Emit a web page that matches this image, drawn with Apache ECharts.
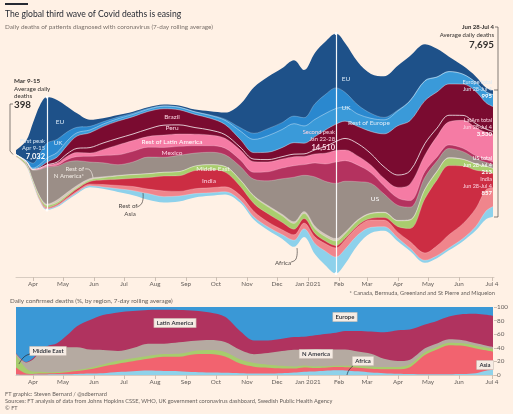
<!DOCTYPE html>
<html><head><meta charset="utf-8">
<script src="https://cdn.jsdelivr.net/npm/echarts@6.0.0/dist/echarts.min.js"></script>
<style>html,body{margin:0;padding:0;background:#fff1e5;}#c{width:513px;height:414px;}</style>
</head><body><div id="c"></div>
<script>
// ---- data: daily deaths, 7-day rolling average ----
const dates = ['2020-03-15','2020-03-25','2020-04-01','2020-04-08','2020-04-15','2020-04-25','2020-05-05','2020-05-15','2020-05-28','2020-06-10','2020-06-25','2020-07-10','2020-07-25','2020-08-10','2020-08-25','2020-09-10','2020-09-25','2020-10-10','2020-10-25','2020-11-08','2020-11-22','2020-12-06','2020-12-18','2020-12-28','2021-01-08','2021-01-18','2021-01-29','2021-02-07','2021-02-20','2021-03-05','2021-03-18','2021-04-01','2021-04-13','2021-04-28','2021-05-10','2021-05-22','2021-06-05','2021-06-18','2021-06-28','2021-07-05'];
const EU     = [260,1150,2450,2900,2800,2400,1550,850,400,220,130,90,70,70,90,130,220,400,1400,2800,3150,3300,3400,2900,3100,3200,3300,3000,2600,2400,2500,2700,2700,2200,1700,900,500,350,250,250];
const UK     = [5,50,300,700,900,800,550,330,220,140,100,70,50,30,15,10,30,70,200,370,430,420,460,500,950,1150,1250,900,550,300,150,50,30,25,15,10,8,10,15,20];
const restEurope = [5,20,60,150,250,280,280,200,170,150,140,140,130,150,150,150,170,250,500,800,1000,1100,1150,1050,1050,1000,950,850,750,800,850,900,1200,1200,900,750,600,550,650,725];
const brazil = [0,3,20,70,170,300,500,750,900,1000,1050,1050,1070,1000,920,800,720,620,480,400,450,550,700,650,800,1000,1050,1050,1050,1350,2000,3000,3050,2600,2200,1900,1900,1950,1600,1500];
const peru   = [0,0,3,10,25,70,150,250,330,400,400,400,450,600,550,400,300,220,170,150,140,140,150,150,250,400,550,700,750,700,700,750,800,700,500,400,300,250,200,180];
const restLatAm = [2,5,30,60,70,120,200,250,200,350,600,650,650,750,750,700,650,600,600,650,600,550,550,500,550,650,700,650,550,450,450,650,1000,1000,1250,1400,1700,1700,1650,1680];
const mexico = [0,1,5,20,35,60,150,250,350,450,600,650,600,600,550,450,400,400,400,420,550,650,700,650,850,1050,1300,1250,1000,650,500,450,400,350,250,220,200,180,170,170];
const US     = [10,120,650,1650,2250,2050,1850,1500,1000,850,650,750,1000,900,980,780,750,700,800,1000,1500,2150,2700,2200,3000,3200,3350,3100,2300,1800,1100,900,750,700,600,550,450,300,220,213];
const restNAm = [1,5,20,40,80,150,160,140,90,60,30,20,15,10,10,10,10,20,25,50,80,90,110,120,150,150,150,100,60,40,35,35,40,50,45,35,25,15,10,10];
const middleEast = [70,120,130,150,130,100,90,80,90,130,200,220,230,230,250,270,300,330,380,430,420,400,350,300,280,270,280,280,280,280,300,350,500,550,500,450,400,380,330,310];
const india  = [1,2,5,15,30,50,80,110,160,280,380,500,700,900,950,1100,1100,900,550,480,500,450,340,280,220,160,140,100,90,100,150,350,800,3300,4000,4200,3500,2300,1100,857];
const restAsia = [40,25,30,70,70,70,80,90,100,150,200,250,270,350,280,300,300,300,300,330,300,300,330,350,400,450,550,550,500,450,400,350,400,450,600,800,900,1100,1300,1150];
const africa = [3,5,20,35,50,60,70,80,90,110,200,280,370,350,330,230,180,160,150,170,200,250,400,500,650,850,1000,900,600,350,250,200,170,150,150,150,160,250,500,620];

const tickDates  = ['2020-04-01','2020-05-01','2020-06-01','2020-07-01','2020-08-01','2020-09-01','2020-10-01','2020-11-01','2020-12-01','2021-01-01','2021-02-01','2021-03-01','2021-04-01','2021-05-01','2021-06-01','2021-07-04'];
const tickLabels = ['Apr','May','Jun','Jul','Aug','Sep','Oct','Nov','Dec','Jan 2021','Feb','Mar','Apr','May','Jun','Jul 4'];
const peakDates = ['2020-04-15','2021-01-29'];

// ---- helpers ----
function ts(s){const p=s.split('-').map(Number);return Date.UTC(p[0],p[1]-1,p[2]);}
const X = dates.map(ts);
const tickTs = tickDates.map(ts);
const FONT = "Lato, 'Noto Sans', sans-serif";
const BG = '#fff1e5';
const layers = [ // bottom -> top
  {name:'Africa', d:africa, c:'#8dd1eb'},
  {name:'Rest of Asia', d:restAsia, c:'#f0858c'},
  {name:'India', d:india, c:'#cc2d43'},
  {name:'Middle East', d:middleEast, c:'#a9cd6e'},
  {name:'Rest of N America', d:restNAm, c:'#d6c8bb'},
  {name:'US', d:US, c:'#9b8e87'},
  {name:'Mexico', d:mexico, c:'#b4325f'},
  {name:'Rest of Latin America', d:restLatAm, c:'#f57ba4'},
  {name:'Peru', d:peru, c:'#7a0b30'},
  {name:'Brazil', d:brazil, c:'#7a0b30'},
  {name:'Rest of Europe', d:restEurope, c:'#3a9ad9'},
  {name:'UK', d:UK, c:'#2a88cf'},
  {name:'EU', d:EU, c:'#1e5189'}
];
const totals = X.map((_,i)=>layers.reduce((s,l)=>s+l.d[i],0));
const MID = 7500;                       // centre line of the stream
const base = totals.map(t=>MID - t/2);  // silhouette baseline
const cum = []; {let run = base.slice(); layers.forEach(l=>{run = run.map((v,i)=>v+l.d[i]); cum.push(run.slice());});}

const SM = 0.35;
const series = [];
for(let k=layers.length-1;k>=0;k--){
  series.push({type:'line', name:layers[k].name, xAxisIndex:0, yAxisIndex:0, symbol:'none', smooth:SM, silent:true, z:2,
    lineStyle:{width:0}, areaStyle:{color:layers[k].c, opacity:1, origin:'start'}, data:X.map((x,i)=>[x,cum[k][i]])});
}
series.push({type:'line', name:'base', xAxisIndex:0, yAxisIndex:0, symbol:'none', smooth:SM, silent:true, z:3,
  lineStyle:{width:0}, areaStyle:{color:BG, opacity:1, origin:'start'}, data:X.map((x,i)=>[x,base[i]])});
for(let k=0;k<layers.length-1;k++){
  const nm = layers[k].name;
  let ls = {width:0.6, color:'rgba(255,255,255,0.4)'};
  if(nm==='Peru') ls = {width:0.9, color:'rgba(255,255,255,0.85)'};
  if(nm==='Brazil'||nm==='Rest of Europe') ls = {width:0.7, color:'rgba(255,255,255,0.55)'};
  series.push({type:'line', name:nm+' edge', xAxisIndex:0, yAxisIndex:0, symbol:'none', smooth:SM, silent:true, z:4,
    lineStyle:ls, data:X.map((x,i)=>[x,cum[k][i]])});
}
series.push({type:'line', name:'peaks', xAxisIndex:0, yAxisIndex:0, symbol:'none', silent:true, z:5, data:[],
  markLine:{silent:true, symbol:['circle','circle'], symbolSize:3, animation:false,
    lineStyle:{color:'#ffffff', width:1.2, type:'solid', opacity:0.95}, label:{show:false},
    data: peakDates.map(pd=>{const i=dates.indexOf(pd);return [{coord:[X[i],base[i]]},{coord:[X[i],base[i]+totals[i]]}];})}});

const regions = [ // bottom -> top
  {name:'Africa', parts:[africa], c:'#8fd2ea'},
  {name:'Asia', parts:[india,restAsia], c:'#f2636f'},
  {name:'Middle East', parts:[middleEast], c:'#a7cc6d'},
  {name:'N America', parts:[US,restNAm], c:'#b5aaa1'},
  {name:'Latin America', parts:[brazil,peru,restLatAm,mexico], c:'#b0335f'},
  {name:'Europe', parts:[EU,UK,restEurope], c:'#3a98d6'}
];
const pcum = []; {let run = X.map(()=>0); regions.forEach(r=>{run = run.map((v,i)=>v + r.parts.reduce((s,a)=>s+a[i],0)/totals[i]*100); pcum.push(run.slice());});}
for(let k=regions.length-1;k>=0;k--){
  series.push({type:'line', name:regions[k].name+' %', xAxisIndex:1, yAxisIndex:1, symbol:'none', smooth:0.3, silent:true, z:2,
    lineStyle:{width:0}, areaStyle:{color:regions[k].c, opacity:1, origin:'start'}, data:X.map((x,i)=>[x,pcum[k][i]])});
}

function xAxisCfg(gi){return {type:'value', gridIndex:gi, min:ts('2020-03-15'), max:ts('2021-07-06'), z:6,
  axisLine:{show:true, lineStyle:{color:'#d8ccc1', width:1}},
  axisTick:{show:true, customValues:tickTs, length:4, lineStyle:{color:'#cdbfb3'}},
  axisLabel:{customValues:tickTs, fontSize:6.3, color:'#66605c', fontFamily:FONT, margin:4,
    formatter:v=>{let best=0,bd=Infinity;tickTs.forEach((t,i)=>{const d=Math.abs(t-v);if(d<bd){bd=d;best=i;}});return tickLabels[best];}},
  splitLine:{show:false}};}

function T(x,y,text,o){o=o||{};return {type:'text', x:x, y:y, silent:true, z:100, style:Object.assign({text:text, fill:o.fill||'#33302e',
  font:(o.w||'normal')+' '+(o.s||6)+'px '+FONT, align:o.a||'left', verticalAlign:'middle'}, o.extra||{})};}
function L(points,o){o=o||{};return {type:'polyline', silent:true, z:100, shape:{points:points, smooth:o.smooth||0},
  style:{stroke:o.c||'#66605c', lineWidth:o.w||0.7, fill:null}};}
function B(x,y,text){return T(x,y,text,{a:'center', w:'600', s:6, fill:'#262a33',
  extra:{backgroundColor:'#f6ece4', borderColor:'#cbbfb5', borderWidth:0.6, padding:[1.5,2.5,1,2.5]}});}

const W='#ffffff', LB='#dbe9f6', LP='#fbd3e1';
const graphic = [
  {type:'rect', shape:{x:5,y:3,width:23,height:2}, style:{fill:'#262a33'}, silent:true},
  T(5,14.5,'The global third wave of Covid deaths is easing',{s:8.6, fill:'#262a33'}),
  T(5,26.5,'Daily deaths of patients diagnosed with coronavirus (7-day rolling average)',{s:6.4, fill:'#7a716b'}),
  T(14,81,'Mar 9-15',{w:'bold', s:6.3}),
  T(14,89,'Average daily',{s:6.2}),
  T(14,96,'deaths',{s:6.2}),
  T(14,105,'398',{w:'bold', s:9.8}),
  L([[13,104],[10,104],[10,151],[13,154.5]],{c:'#4d4845'}),
  T(45,141,'First peak',{s:5.8, fill:LB, a:'right'}),
  T(45,148,'Apr 9-15',{s:5.8, fill:LB, a:'right'}),
  T(45,157,'7,032',{w:'bold', s:7.5, fill:W, a:'right'}),
  T(335,132,'Second peak',{s:5.8, fill:LP, a:'right'}),
  T(335,139.5,'Jan 22-28',{s:5.8, fill:LP, a:'right'}),
  T(335,148,'14,510',{w:'bold', s:7.5, fill:LP, a:'right'}),
  T(494,27,'Jun 28-Jul 4',{w:'bold', s:6, a:'right'}),
  T(494,35,'Average daily deaths',{s:6, a:'right'}),
  T(494,45,'7,695',{w:'bold', s:9.8, a:'right'}),
  L([[495,27],[498,27],[498,217],[494,217]],{c:'#4d4845'}),
  L([[494,90],[498,90]],{c:'#4d4845'}),
  T(492,82,'Europe total',{s:5.5, fill:LB, a:'right'}),
  T(492,89,'Jun 28-Jul 4',{s:5.5, fill:LB, a:'right'}),
  T(492,96.5,'995',{w:'bold', s:6, fill:W, a:'right'}),
  T(492,120,'LatAm total',{s:5.5, fill:LP, a:'right'}),
  T(492,127,'Jun 28-Jul 4',{s:5.5, fill:LP, a:'right'}),
  T(492,134,'3,530',{w:'bold', s:6, fill:W, a:'right'}),
  T(492,158,'US total',{s:5.5, fill:W, a:'right'}),
  T(492,165,'Jun 28-Jul 4',{s:5.5, fill:W, a:'right'}),
  T(492,172,'213',{w:'bold', s:6, fill:W, a:'right'}),
  T(492,179,'India',{s:5.5, fill:LP, a:'right'}),
  T(492,186,'Jun 28-Jul 4',{s:5.5, fill:LP, a:'right'}),
  T(492,193,'857',{w:'bold', s:6, fill:W, a:'right'}),
  T(60,122,'EU',{s:6.5, fill:LB, a:'center'}),
  T(346,79,'EU',{s:6.5, fill:LB, a:'center'}),
  T(58,143,'UK',{s:6.5, fill:LB, a:'center'}),
  T(346,108,'UK',{s:6.5, fill:LB, a:'center'}),
  T(369,123,'Rest of Europe',{s:6.5, fill:LB, a:'center'}),
  T(172,117,'Brazil',{s:6.5, fill:LP, a:'center'}),
  T(172,128,'Peru',{s:6.5, fill:LP, a:'center'}),
  T(172,142,'Rest of Latin America',{s:6.5, fill:W, a:'center'}),
  T(172,153,'Mexico',{s:6.5, fill:LP, a:'center'}),
  T(84,169,'Rest of',{s:6, fill:'#f4ede6', a:'right'}),
  T(84,176.5,'N America*',{s:6, fill:'#f4ede6', a:'right'}),
  L([[85,169],[90,170],[93,178]],{c:'#f4ede6', smooth:0.5}),
  T(375,199,'US',{s:6.5, fill:W, a:'center'}),
  T(213,169,'Middle East',{s:6.5, fill:'#f3f8e8', a:'center'}),
  T(209,181,'India',{s:6.5, fill:LP, a:'center'}),
  T(128,206,'Rest of',{s:6.2, fill:'#4d4845', a:'center'}),
  T(130,214,'Asia',{s:6.2, fill:'#4d4845', a:'center'}),
  L([[137,207],[142,203],[143,193]],{c:'#4d4845', smooth:0.5}),
  T(283,263,'Africa',{s:6.2, fill:'#4d4845', a:'center'}),
  L([[291,262],[296,259],[297,248]],{c:'#4d4845', smooth:0.5}),
  T(495,293,'* Canada, Bermuda, Greenland and St Pierre and Miquelon',{s:5.7, fill:'#66605c', a:'right'}),
  T(10,301,'Daily confirmed deaths (%, by region, 7-day rolling average)',{s:6.3, fill:'#66605c'}),
  B(175,323,'Latin America'),
  B(345,317,'Europe'),
  B(48,351,'Middle East'),
  L([[30,354],[24,357],[19,364]],{c:'#262a33', smooth:0.5}),
  B(316,354,'N America'),
  B(363,361,'Africa'),
  L([[353,366],[349,370],[347,375]],{c:'#262a33', smooth:0.5}),
  B(485,365,'Asia'),
  T(5,394.5,'FT graphic: Steven Bernard / @sdbernard',{s:5.65, fill:'#66605c'}),
  T(5,401.5,'Sources: FT analysis of data from Johns Hopkins CSSE, WHO, UK government coronavirus dashboard, Swedish Public Health Agency',{s:5.65, fill:'#66605c'}),
  T(5,408.5,'\u00a9 FT',{s:5.65, fill:'#66605c'})
];

const chart = echarts.init(document.getElementById('c'), null, {renderer:'canvas'});
chart.setOption({
  animation:false,
  backgroundColor:BG,
  textStyle:{fontFamily:FONT},
  grid:[{left:16, right:19, top:30, height:247}, {left:16, right:19, top:307, height:68}],
  xAxis:[xAxisCfg(0), xAxisCfg(1)],
  yAxis:[
    {type:'value', gridIndex:0, min:0, max:15000, show:false},
    {type:'value', gridIndex:1, min:0, max:100, interval:20, position:'right', z:6,
     axisLine:{show:false}, axisTick:{show:true, length:3, lineStyle:{color:'#cdbfb3'}},
     axisLabel:{fontSize:6.3, color:'#66605c', margin:3}, splitLine:{show:false}}
  ],
  series:series,
  graphic:graphic
});
</script></body></html>
